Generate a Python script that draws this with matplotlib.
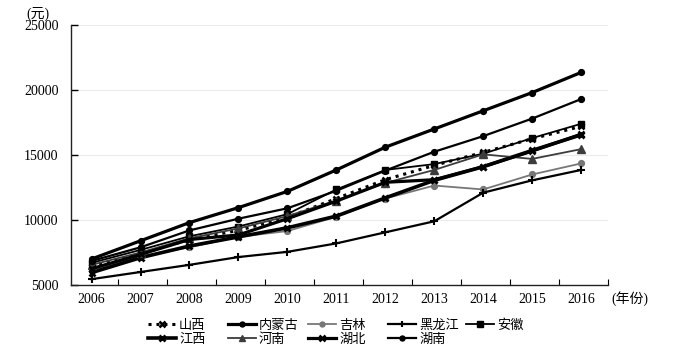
import matplotlib
matplotlib.use('Agg')
import matplotlib.pyplot as plt

years = ['2006', '2007', '2008', '2009', '2010', '2011', '2012', '2013', '2014', '2015', '2016']

shanxi    = [6400, 7400, 8500, 9200, 10200, 11650, 13100, 14200, 15200, 16250, 17200]
neimenggu = [7000, 8400, 9800, 10950, 12200, 13850, 15600, 17000, 18400, 19800, 21350]
jilin     = [6100, 7200, 7900, 8700, 9150, 10250, 11650, 12650, 12350, 13500, 14350]
heilongjiang = [5450, 6000, 6550, 7150, 7550, 8200, 9050, 9900, 12100, 13050, 13850]
anhui     = [6700, 7700, 8750, 9500, 10450, 12350, 13850, 14300, 15100, 16300, 17400]
jiangxi   = [5950, 7100, 8000, 8700, 9400, 10300, 11700, 13050, 14100, 15350, 16550]
henan     = [6550, 7500, 8600, 9350, 10300, 11500, 12850, 13850, 15050, 14700, 15450]
hubei     = [6250, 7350, 8500, 8850, 10100, 11450, 12900, 13100, 14100, 15300, 16600]
hunan     = [6850, 7900, 9200, 10100, 10900, 12250, 13800, 15250, 16450, 17800, 19300]

series_names = ['山西', '内蒙古', '吉林', '黑龙江', '安徽', '江西', '河南', '湖北', '湖南']
series_values = [shanxi, neimenggu, jilin, heilongjiang, anhui, jiangxi, henan, hubei, hunan]

styles = {
    '山西':  dict(color='black', lw=2.2, ls=(0, (1, 1.6)), marker='x', ms=4.5, mew=1.8),
    '内蒙古': dict(color='black', lw=2.3, ls='-', marker='o', ms=4.2, mew=1),
    '吉林':  dict(color='#777777', lw=1.3, ls='-', marker='o', ms=4.2, mew=1),
    '黑龙江': dict(color='black', lw=1.6, ls='-', marker='+', ms=5.5, mew=1.5),
    '安徽':  dict(color='black', lw=1.3, ls='-', marker='s', ms=4.5, mew=1),
    '江西':  dict(color='black', lw=2.6, ls='-', marker='x', ms=4.5, mew=2.0),
    '河南':  dict(color='#3c3c3c', lw=1.3, ls='-', marker='^', ms=5.5, mew=1),
    '湖北':  dict(color='black', lw=2.3, ls='-', marker='x', ms=4.5, mew=1.8),
    '湖南':  dict(color='black', lw=1.6, ls='-', marker='o', ms=4.2, mew=1),
}

plt.rcParams['font.family'] = ['Liberation Serif', 'Noto Sans CJK SC']

fig = plt.figure(figsize=(6.84, 3.51), dpi=100)
ax = fig.add_axes([71/684, 1-285/351, 537/684, 260/351])

x = list(range(len(years)))
handles = {}
for name, vals in zip(series_names, series_values):
    st = styles[name]
    h, = ax.plot(x, vals, color=st['color'], lw=st['lw'], ls=st['ls'],
                 marker=st['marker'], ms=st['ms'], mew=st['mew'],
                 mfc=st['color'], mec=st['color'], label=name, zorder=3)
    handles[name] = h

ax.set_xlim(-0.42, 10.55)
ax.set_ylim(5000, 25000)
ax.set_yticks([5000, 10000, 15000, 20000, 25000])
ax.set_xticks(x)
ax.set_xticklabels(years)
ax.set_xticks([k + 0.55 for k in range(10)] + [10.55], minor=True)

ax.tick_params(axis='x', which='major', length=0, pad=6, labelsize=10)
ax.tick_params(axis='x', which='minor', direction='in', length=4, width=0.8)
ax.tick_params(axis='y', which='major', direction='in', length=5, width=1.0, pad=9, labelsize=10)

for s in ['top', 'right']:
    ax.spines[s].set_visible(False)
for s in ['left', 'bottom']:
    ax.spines[s].set_linewidth(1.0)
    ax.spines[s].set_color('#222222')

ax.grid(axis='y', color='#ebebeb', lw=0.8, zorder=0)
ax.set_axisbelow(True)

fig.text(26/684, 1-14/351, '(元)', fontsize=10, ha='left', va='center',
         family=['Liberation Serif', 'Noto Sans CJK SC'])
fig.text(611/684, 1-299/351, '(年份)', fontsize=10, ha='left', va='center',
         family=['Liberation Serif', 'Noto Sans CJK SC'])

# legend: 5 columns placed at fixed positions
columns = [['山西', '江西'], ['内蒙古', '河南'], ['吉林', '湖北'], ['黑龙江', '湖南'], ['安徽']]
col_x = [148, 228, 308, 388, 466]
for names, cx in zip(columns, col_x):
    hs = [handles[n] for n in names]
    fig.legend(hs, names, loc='upper left', bbox_to_anchor=(cx/684, 1-319/351),
               frameon=False, handlelength=2.1, handletextpad=0.25,
               labelspacing=0.05, borderpad=0, borderaxespad=0, numpoints=1,
               markerscale=0.85, prop={'family': ['Noto Sans CJK SC'], 'size': 9.5})

fig.savefig('out.png', dpi=100)
